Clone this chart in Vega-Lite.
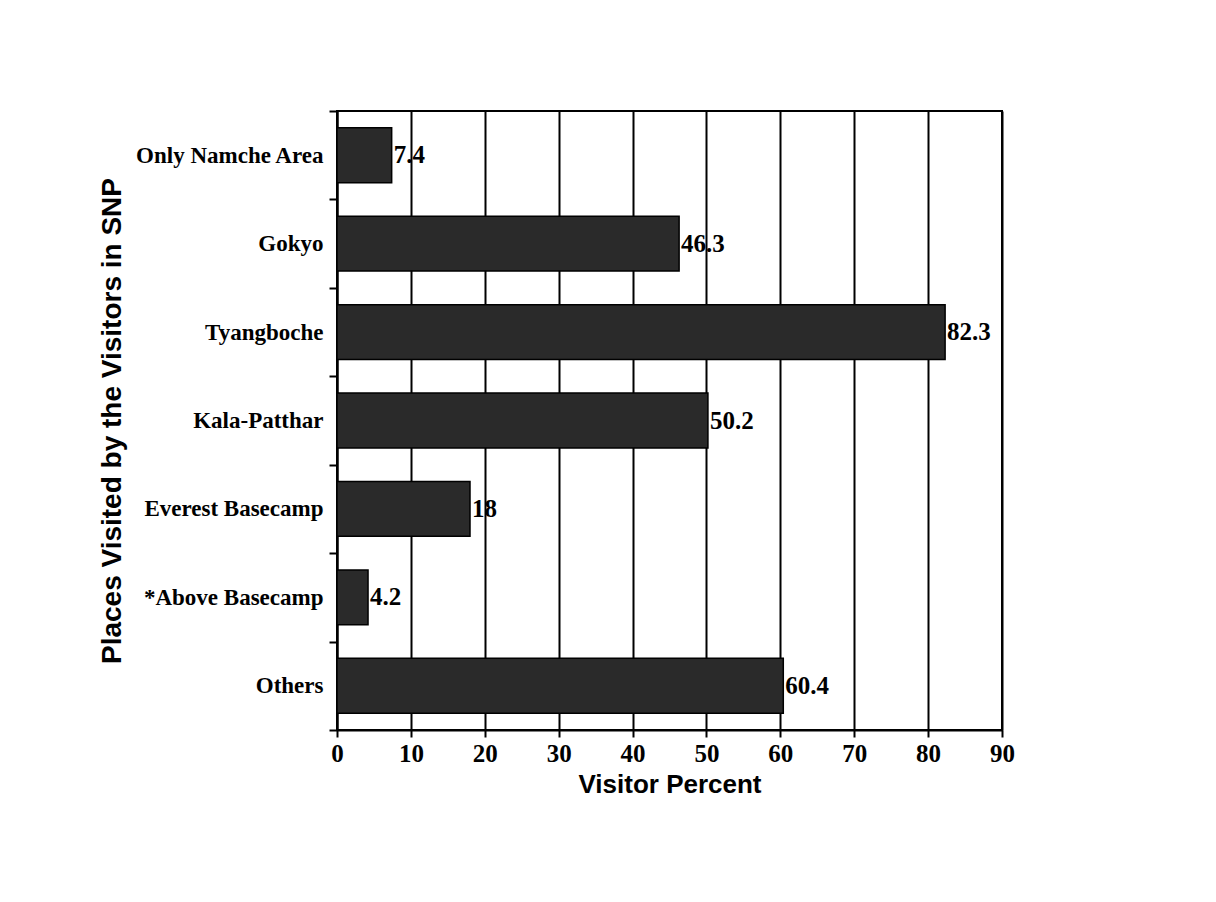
{
  "$schema": "https://vega.github.io/schema/vega-lite/v6.json",
  "autosize": {"type": "none"},
  "padding": {"left": 337, "top": 111, "right": 214, "bottom": 172},
  "width": 665,
  "height": 619,
  "background": "white",
  "config": {"view": {"stroke": "black", "strokeWidth": 2}},
  "data": {
    "values": [
      {"place": "Only Namche Area", "percent": 7.4},
      {"place": "Gokyo", "percent": 46.3},
      {"place": "Tyangboche", "percent": 82.3},
      {"place": "Kala-Patthar", "percent": 50.2},
      {"place": "Everest Basecamp", "percent": 18},
      {"place": "*Above Basecamp", "percent": 4.2},
      {"place": "Others", "percent": 60.4}
    ]
  },
  "encoding": {
    "y": {
      "field": "place",
      "type": "nominal",
      "sort": null,
      "scale": {"paddingInner": 0, "paddingOuter": 0},
      "axis": {
        "title": "Places Visited by the Visitors in SNP",
        "tickBand": "extent",
        "grid": false,
        "domainColor": "black",
        "domainWidth": 2,
        "tickColor": "black",
        "tickWidth": 2,
        "tickSize": 8,
        "labelFont": "Liberation Serif",
        "labelFontWeight": "bold",
        "labelFontSize": 23,
        "labelColor": "black",
        "labelPadding": 6,
        "labelLimit": 0,
        "titleFont": "Liberation Sans",
        "titleFontWeight": "bold",
        "titleFontSize": 28,
        "titleColor": "black",
        "titleAngle": -90,
        "titleX": -225,
        "titleY": 309.5,
        "titleAlign": "center",
        "titleBaseline": "middle"
      }
    }
  },
  "layer": [
    {
      "mark": {"type": "bar", "height": {"band": 0.62}, "fill": "#2a2a2a", "stroke": "black", "strokeWidth": 1.5},
      "encoding": {
        "x": {
          "field": "percent",
          "type": "quantitative",
          "scale": {"domain": [0, 90], "nice": false},
          "axis": {
            "title": "Visitor Percent",
            "values": [0, 10, 20, 30, 40, 50, 60, 70, 80, 90],
            "grid": true,
            "gridColor": "black",
            "gridWidth": 2,
            "gridOpacity": 1,
            "domainColor": "black",
            "domainWidth": 2,
            "tickColor": "black",
            "tickWidth": 2,
            "tickSize": 7,
            "labelFont": "Liberation Serif",
            "labelFontWeight": "bold",
            "labelFontSize": 25,
            "labelColor": "black",
            "labelPadding": 4,
            "labelFlush": false,
            "titleFont": "Liberation Sans",
            "titleFontWeight": "bold",
            "titleFontSize": 26,
            "titleColor": "black",
            "titlePadding": 5
          }
        }
      }
    },
    {
      "mark": {"type": "text", "align": "left", "baseline": "middle", "dx": 2, "font": "Liberation Serif", "fontWeight": "bold", "fontSize": 25, "color": "black"},
      "encoding": {
        "x": {"field": "percent", "type": "quantitative"},
        "text": {"field": "percent", "type": "quantitative", "format": ".1~f"}
      }
    }
  ]
}
